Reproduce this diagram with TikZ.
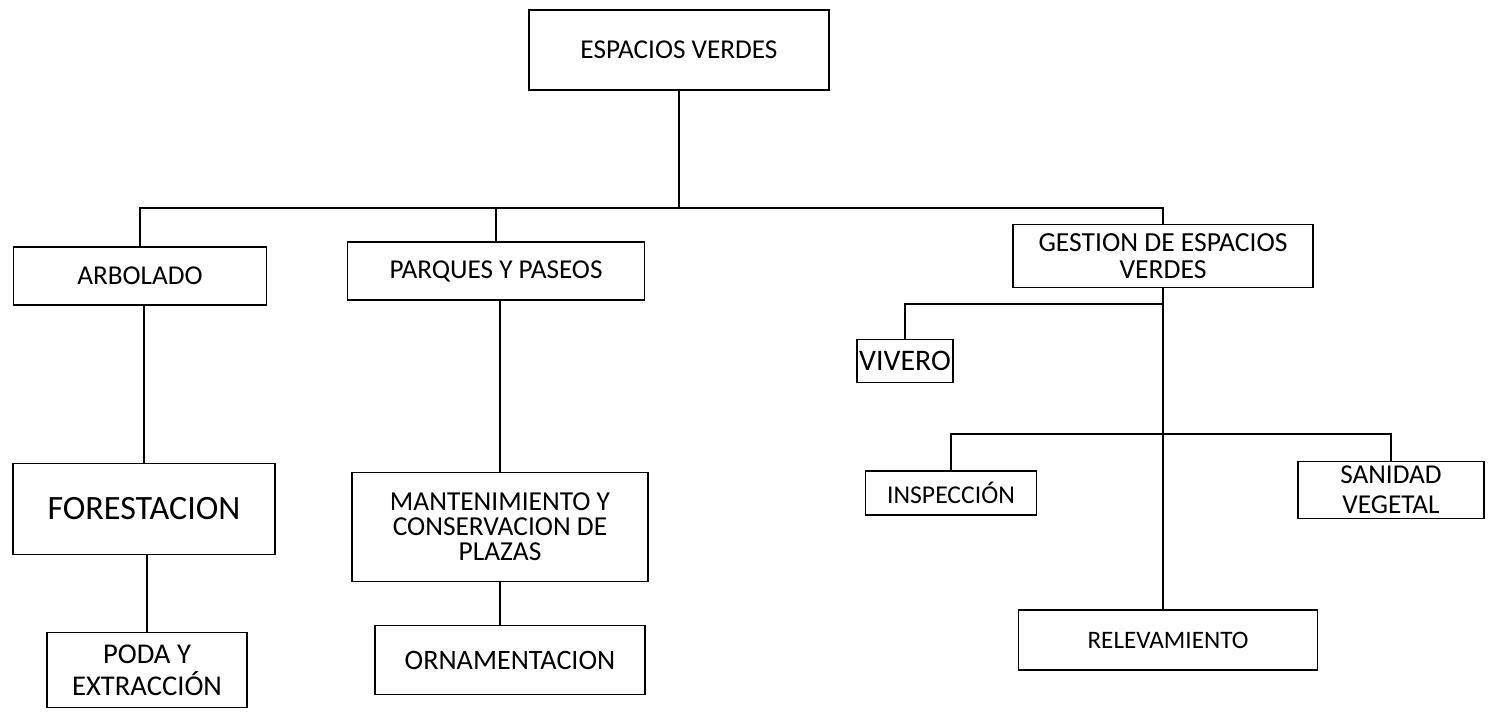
\documentclass[tikz,border=0pt]{standalone}
\usepackage{fontspec}
\setmainfont{Carlito}
\tikzset{
	caja/.style={draw, line width=1.1pt, inner sep=0pt, align=center, font={\fontsize{15.5}{15}\selectfont}},
	medida/.style 2 args={minimum width=#1*0.02cm, minimum height=#2*0.02cm},
	linea/.style={line width=1.2pt}
}
\begin{document}
\begin{tikzpicture}[x=0.02cm, y=-0.02cm]
	\useasboundingbox (0,0) rectangle (1491,712);
	
	\node[caja, medida={300}{80}] (espacios) at (679,50) {ESPACIOS VERDES};
	
	\node[caja, medida={253}{58}] (arbolado) at (140,276) {ARBOLADO};
	\node[caja, medida={297}{58}] (parques) at (496,271) {PARQUES Y PASEOS};
	\node[caja, medida={300}{63}, font={\fontsize{15.7}{15.2}\selectfont}] (gestion) at (1163,256) {GESTION DE ESPACIOS\\VERDES};
	
	\node[caja, medida={262}{91}, font={\fontsize{19.4}{20}\selectfont}] (forestacion) at (144,509) {FORESTACION};
	\node[caja, medida={200}{75}, font={\fontsize{16.3}{18}\selectfont}] (poda) at (147,670) {PODA Y\\EXTRACCIÓN};
	
	\node[caja, medida={296}{109}, font={\fontsize{15.6}{14.2}\selectfont}] (mantenimiento) at (500,527) {MANTENIMIENTO Y\\CONSERVACION DE\\PLAZAS};
	\node[caja, medida={270}{69}, font={\fontsize{16}{16}\selectfont}] (ornamentacion) at (510,660) {ORNAMENTACION};
	
	\node[caja, medida={96}{43}, font={\fontsize{17}{17}\selectfont}] (vivero) at (905,361) {VIVERO};
	\node[caja, medida={171}{44}, font={\fontsize{14.6}{15}\selectfont}] (inspeccion) at (951,493) {INSPECCIÓN};
	\node[caja, medida={186}{57}, font={\fontsize{15.5}{17}\selectfont}] (sanidad) at (1391,490) {SANIDAD\\VEGETAL};
	\node[caja, medida={299}{60}, font={\fontsize{14.3}{15}\selectfont}] (relevamiento) at (1168,640) {RELEVAMIENTO};
	
	\coordinate (barra) at (679,208);
	\coordinate (rama1) at (1163,304);
	\coordinate (rama2) at (1163,434);
	
	% primer nivel
	\draw[linea] (espacios.south) -- (barra);
	\draw[linea] (arbolado.north) |- (gestion.north |- barra) -- (gestion.north);
	\draw[linea] (parques.north) -- (parques.north |- barra);
	
	% arbolado y parques
	\draw[linea] (forestacion.north) -- (forestacion.north |- arbolado.south);
	\draw[linea] (poda.north) -- (poda.north |- forestacion.south);
	\draw[linea] (mantenimiento.north) -- (mantenimiento.north |- parques.south);
	\draw[linea] (mantenimiento.south) -- (mantenimiento.south |- ornamentacion.north);
	
	% gestion
	\draw[linea] (gestion.south) -- (gestion.south |- relevamiento.north);
	\draw[linea] (vivero.north) |- (rama1);
	\draw[linea] (inspeccion.north) |- (sanidad.north |- rama2) -- (sanidad.north);
	
\end{tikzpicture}
\end{document}
